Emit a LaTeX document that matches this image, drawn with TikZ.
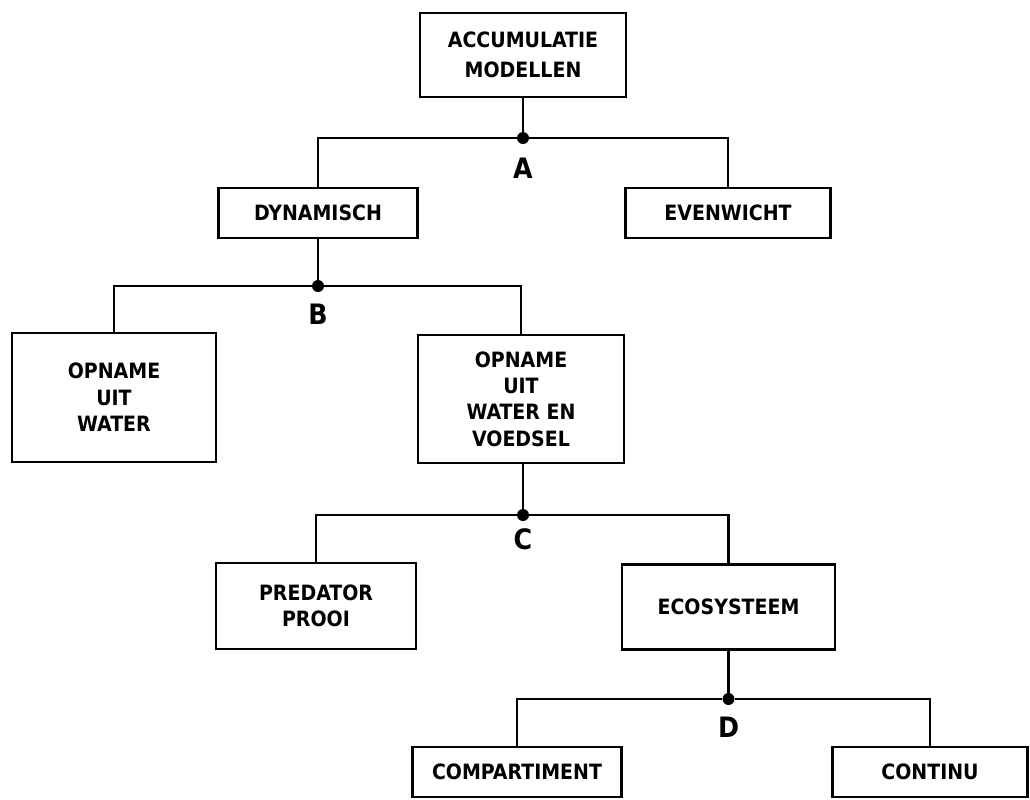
\documentclass[tikz,border=0pt]{standalone}
\usepackage{fontspec}
\usepackage{tikz}
\newfontfamily\boxfont{DejaVu Sans Condensed}

\begin{document}
\begin{tikzpicture}[
  box/.style={draw,line width=1.6pt,align=center,inner sep=0pt,
    font=\boxfont\bfseries\fontsize{12}{15}\selectfont},
  knoop/.style={circle,fill,inner sep=0pt,minimum size=0.24cm},
  letter/.style={font=\boxfont\bfseries\fontsize{16}{18}\selectfont},
  tak/.style={line width=1.4pt}]
\useasboundingbox (0,0) rectangle (20.6,-15.98);
%% niveau 0
\node [box,minimum width=4.12cm,minimum height=1.68cm] (accu) at (10.46,-1.10) {ACCUMULATIE\\[2pt]MODELLEN};
\node [knoop] (a) at (10.46,-2.76) {};
\node [letter] (alab) at (10.46,-3.36) {A};
%% niveau 1
\node [box,minimum width=3.98cm,minimum height=1cm] (dyn) at (6.36,-4.26) {DYNAMISCH};
\node [box,minimum width=4.1cm,minimum height=1cm] (even) at (14.56,-4.26) {EVENWICHT};
\node [knoop] (b) at (6.36,-5.72) {};
\node [letter] (blab) at (6.36,-6.28) {B};
%% niveau 2
\node [box,minimum width=4.08cm,minimum height=2.58cm] (water) at (2.28,-7.95) {OPNAME\\UIT\\WATER};
\node [box,minimum width=4.12cm,minimum height=2.56cm] (voedsel) at (10.42,-7.98) {OPNAME\\UIT\\WATER EN\\VOEDSEL};
\node [knoop] (c) at (10.46,-10.30) {};
\node [letter] (clab) at (10.46,-10.78) {C};
%% niveau 3
\node [box,minimum width=4cm,minimum height=1.72cm] (pred) at (6.32,-12.12) {PREDATOR\\PROOI};
\node [box,minimum width=4.26cm,minimum height=1.7cm] (eco) at (14.57,-12.14) {ECOSYSTEEM};
\node [knoop] (d) at (14.57,-13.98) {};
\node [letter] (dlab) at (14.57,-14.54) {D};
%% niveau 4
\node [box,minimum width=4.18cm,minimum height=1cm] (comp) at (10.34,-15.44) {COMPARTIMENT};
\node [box,minimum width=3.9cm,minimum height=1cm] (cont) at (18.6,-15.44) {CONTINU};
%% takken
\draw [tak] (accu) -- (a);
\draw [tak] (a) -| (dyn);
\draw [tak] (a) -| (even);
\draw [tak] (dyn) -- (b);
\draw [tak] (b) -| (water);
\draw [tak] (b) -| (voedsel);
\draw [tak] (voedsel.south -| c) -- (c);
\draw [tak] (c) -| (pred);
\draw [tak] (c) -| (eco);
\draw [tak] (eco) -- (d);
\draw [tak] (d) -| (comp);
\draw [tak] (d) -| (cont);

\end{tikzpicture}
\end{document}
